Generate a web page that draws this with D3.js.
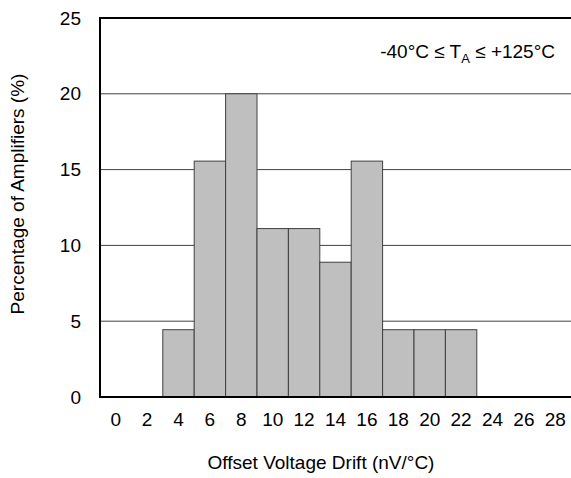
<!DOCTYPE html>
<html>
<head>
<meta charset="utf-8">
<script src="https://cdn.jsdelivr.net/npm/d3@7"></script>
<style>
  body { margin: 0; background: #fff; }
  text { font-family: "Liberation Sans", Arial, sans-serif; fill: #000; }
</style>
</head>
<body>
<div id="wrapper"></div>
<script>
// drift bins (nV/°C) and percentage of amplifiers in each
const bins = [0, 2, 4, 6, 8, 10, 12, 14, 16, 18, 20, 22, 24, 26, 28];
const percent = [0, 0, 4.44, 15.56, 20, 11.11, 11.11, 8.89, 15.56, 4.44, 4.44, 4.44, 0, 0, 0];
const yTicks = [0, 5, 10, 15, 20, 25];

const width = 571, height = 478;
const margin = { top: 18, right: 0, bottom: 81, left: 100 };
const fontSize = 19;

const svg = d3.select("#wrapper")
  .append("svg")
  .attr("width", width)
  .attr("height", height);

const x = d3.scaleBand()
  .domain(bins)
  .range([margin.left, width - margin.right])
  .padding(0);

const y = d3.scaleLinear()
  .domain([0, 25])
  .range([height - margin.bottom, margin.top]);

// gridlines
svg.append("g")
  .selectAll("line")
  .data(yTicks.filter(d => d > 0 && d < 25))
  .enter()
  .append("line")
  .attr("x1", margin.left)
  .attr("x2", width)
  .attr("y1", d => y(d))
  .attr("y2", d => y(d))
  .attr("stroke", "#404040")
  .attr("stroke-width", 1);

// bars
svg.append("g")
  .selectAll("rect")
  .data(bins.map((b, i) => ({ bin: b, value: percent[i] })).filter(d => d.value > 0))
  .enter()
  .append("rect")
  .attr("x", d => x(d.bin))
  .attr("y", d => y(d.value))
  .attr("width", x.bandwidth())
  .attr("height", d => y(0) - y(d.value))
  .attr("fill", "#bfbfbf")
  .attr("stroke", "#404040")
  .attr("stroke-width", 1);

// axes
const yAxis = d3.axisLeft(y).tickValues(yTicks).tickSize(0).tickPadding(19);
const yG = svg.append("g")
  .attr("transform", `translate(${margin.left},0)`)
  .call(yAxis);
yG.select(".domain").remove();
yG.selectAll("text").attr("font-size", fontSize).attr("font-family", "Liberation Sans, Arial, sans-serif");

const xAxis = d3.axisBottom(x).tickSize(0).tickPadding(16);
const xG = svg.append("g")
  .attr("transform", `translate(0,${y(0)})`)
  .call(xAxis);
xG.select(".domain").remove();
xG.selectAll("text").attr("font-size", fontSize).attr("font-family", "Liberation Sans, Arial, sans-serif");

// frame: left, bottom, top
svg.append("path")
  .attr("d", `M${width},${y(25)}H${margin.left}V${y(0)}H${width}`)
  .attr("fill", "none")
  .attr("stroke", "#000")
  .attr("stroke-width", 2);

// axis titles
svg.append("text")
  .attr("x", 321)
  .attr("y", 469)
  .attr("text-anchor", "middle")
  .attr("font-size", fontSize)
  .text("Offset Voltage Drift (nV/°C)");

svg.append("text")
  .attr("transform", `translate(24,194) rotate(-90)`)
  .attr("text-anchor", "middle")
  .attr("font-size", fontSize)
  .text("Percentage of Amplifiers (%)");

// condition note
const note = svg.append("text")
  .attr("x", 555)
  .attr("y", 58)
  .attr("text-anchor", "end")
  .attr("font-size", fontSize);
note.append("tspan").text("-40°C ≤ T");
note.append("tspan").attr("font-size", 13).attr("dy", 5).text("A");
note.append("tspan").attr("dy", -5).text(" ≤ +125°C");
</script>
</body>
</html>
